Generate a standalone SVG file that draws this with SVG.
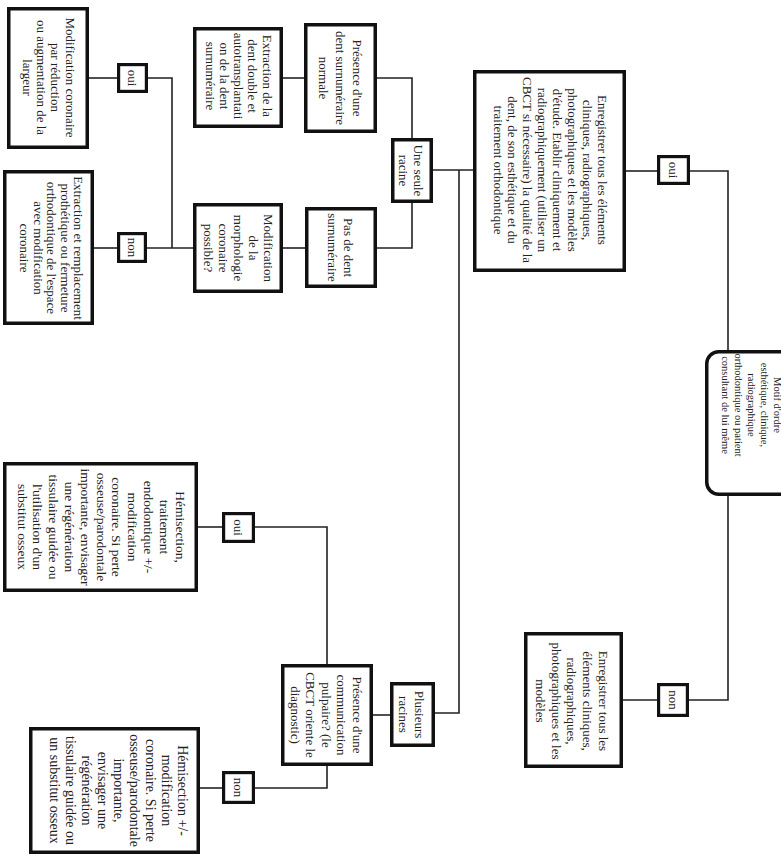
<svg xmlns="http://www.w3.org/2000/svg" width="781" height="868" viewBox="0 0 781 868">
<style>
.box{fill:#fff;stroke:#111;stroke-width:3.5}
.lbl{fill:#fff;stroke:#111;stroke-width:3.2}
.c{fill:none;stroke:#222;stroke-width:1.6}
text{font-family:"Liberation Serif","Times New Roman",serif;fill:#222;text-anchor:middle}
.f13{font-size:13px}
.f135{font-size:13.5px}
.f14{font-size:14px}
.f10{font-size:10.5px}
</style>
<rect width="781" height="868" fill="#fff"/>
<g id="connectors">
<polyline class="c" points="89,78 117,78"/>
<polyline class="c" points="148,78 172,78 172,248"/>
<polyline class="c" points="94,248 117,248"/>
<polyline class="c" points="147,248 193,248"/>
<polyline class="c" points="283,248 305,248"/>
<polyline class="c" points="377,248 412,248 412,203"/>
<polyline class="c" points="283,78 304,78"/>
<polyline class="c" points="377,78 412,78 412,138"/>
<polyline class="c" points="433,170 473,170"/>
<polyline class="c" points="459,170 459,713 435,713"/>
<polyline class="c" points="626,171 657,171"/>
<polyline class="c" points="690,171 728,171 728,350"/>
<polyline class="c" points="728,496 728,700 689,700"/>
<polyline class="c" points="657,700 623,700"/>
<polyline class="c" points="390,715 373,715"/>
<polyline class="c" points="327,664 327,527 255,527"/>
<polyline class="c" points="222,527 198,527"/>
<polyline class="c" points="327,766 327,788 255,788"/>
<polyline class="c" points="222,788 200,788"/>
</g>
<g id="n-modif-coronaire">
<rect class="box" x="8.75" y="8.75" width="78.5" height="138.5"/>
<text class="f13" transform="translate(48.5,77.5) rotate(90)"><tspan x="0" y="-17.2">Modification coronaire</tspan><tspan x="0" y="-2.9">par réduction</tspan><tspan x="0" y="11.4">ou augmentation de la</tspan><tspan x="0" y="25.7">largeur</tspan></text>
</g>
<g id="n-extraction-remplacement">
<rect class="box" x="4.75" y="171.75" width="87.5" height="151.5"/>
<text class="f13" transform="translate(51.5,248) rotate(90)"><tspan x="0" y="-22.7">Extraction et remplacement</tspan><tspan x="0" y="-9.2">prothétique ou fermeture</tspan><tspan x="0" y="4.3">orthodontique de l'espace</tspan><tspan x="0" y="17.8">avec modification</tspan><tspan x="0" y="31.3">coronaire</tspan></text>
</g>
<g id="n-oui1">
<rect class="lbl" x="118.6" y="64.6" width="27.8" height="26.8"/>
<text class="f13" transform="translate(132.5,78) rotate(90)"><tspan x="0" y="4.3">oui</tspan></text>
</g>
<g id="n-non1">
<rect class="lbl" x="118.6" y="233.6" width="26.8" height="27.8"/>
<text class="f13" transform="translate(132,247.5) rotate(90)"><tspan x="0" y="4.3">non</tspan></text>
</g>
<g id="n-extraction-double">
<rect class="box" x="194.75" y="28.75" width="86.5" height="97.5"/>
<text class="f13" transform="translate(238.5,76) rotate(90)"><tspan x="0" y="-24.1">Extraction de la</tspan><tspan x="0" y="-9.9">dent double et</tspan><tspan x="0" y="4.3">autotransplantati</tspan><tspan x="0" y="18.5">on de la dent</tspan><tspan x="0" y="32.7">surnuméraire</tspan></text>
</g>
<g id="n-presence-surnum">
<rect class="box" x="305.75" y="24.75" width="69.5" height="106.5"/>
<text class="f13" transform="translate(340.5,78) rotate(90)"><tspan x="0" y="-12.7">Présence d'une</tspan><tspan x="0" y="4.3">dent surnuméraire</tspan><tspan x="0" y="21.3">normale</tspan></text>
</g>
<g id="n-une-seule-racine">
<rect class="box" x="392.75" y="139.75" width="38.5" height="61.5"/>
<text class="f13" transform="translate(410.5,170.5) rotate(90)"><tspan x="0" y="-3.2">Une seule</tspan><tspan x="0" y="11.8">racine</tspan></text>
</g>
<g id="n-pas-de-dent">
<rect class="box" x="306.75" y="208.75" width="68.5" height="77.5"/>
<text class="f13" transform="translate(340,247.5) rotate(90)"><tspan x="0" y="-3.7">Pas de dent</tspan><tspan x="0" y="12.3">surnuméraire</tspan></text>
</g>
<g id="n-modif-morphologie">
<rect class="box" x="194.75" y="204.75" width="86.5" height="86.5"/>
<text class="f13" transform="translate(238,248) rotate(90)"><tspan x="0" y="-25.7">Modification</tspan><tspan x="0" y="-10.7">de la</tspan><tspan x="0" y="4.3">morphologie</tspan><tspan x="0" y="19.3">coronaire</tspan><tspan x="0" y="34.3">possible?</tspan></text>
</g>
<g id="n-enregistrer-complet">
<rect class="box" x="474.75" y="71.75" width="149.5" height="198.5"/>
<text class="f13" transform="translate(550,170) rotate(90)"><tspan x="0" y="-47.85">Enregistrer tous les éléments</tspan><tspan x="0" y="-32.95">cliniques, radiographiques,</tspan><tspan x="0" y="-18.05">photographiques et les modèles</tspan><tspan x="0" y="-3.15">d'étude. Etablir cliniquement et</tspan><tspan x="0" y="11.75">radiographiquement (utiliser un</tspan><tspan x="0" y="26.65">CBCT si nécessaire) la qualité de la</tspan><tspan x="0" y="41.55">dent, de son esthétique et du</tspan><tspan x="0" y="56.45">traitement orthodontique</tspan></text>
</g>
<g id="n-oui2">
<rect class="lbl" x="658.6" y="156.6" width="29.8" height="26.8"/>
<text class="f13" transform="translate(673.5,170) rotate(90)"><tspan x="0" y="4.3">oui</tspan></text>
</g>
<g id="n-demande">
<rect class="box" x="706.75" y="351.75" width="100" height="142.5" rx="12" ry="12"/>
<text class="f10" transform="translate(751.5,405) rotate(90)"><tspan x="0" y="-22.5">Motif d'ordre</tspan><tspan x="0" y="-9.5">esthétique, clinique,</tspan><tspan x="0" y="3.5">radiographique</tspan><tspan x="0" y="16.5">orthodontique ou patient</tspan><tspan x="0" y="29.5">consultant de lui même</tspan></text>
</g>
<g id="n-non2">
<rect class="lbl" x="658.6" y="684.6" width="28.8" height="30.8"/>
<text class="f13" transform="translate(673,700) rotate(90)"><tspan x="0" y="4.3">non</tspan></text>
</g>
<g id="n-enregistrer-simple">
<rect class="box" x="525.75" y="633.75" width="95.5" height="132.5"/>
<text class="f13" transform="translate(571.5,701) rotate(90)"><tspan x="0" y="-27.1">Enregistrer tous les</tspan><tspan x="0" y="-11.4">éléments cliniques,</tspan><tspan x="0" y="4.3">radiographiques,</tspan><tspan x="0" y="20">photographiques et les</tspan><tspan x="0" y="35.7">modèles</tspan></text>
</g>
<g id="n-plusieurs-racines">
<rect class="box" x="391.75" y="683.75" width="41.5" height="61.5"/>
<text class="f13" transform="translate(411.5,714.5) rotate(90)"><tspan x="0" y="-3.7">Plusieurs</tspan><tspan x="0" y="12.3">racines</tspan></text>
</g>
<g id="n-communication">
<rect class="box" x="282.75" y="665.75" width="88.5" height="98.5"/>
<text class="f13" transform="translate(326,715) rotate(90)"><tspan x="0" y="-26.7">Présence d'une</tspan><tspan x="0" y="-11.2">communication</tspan><tspan x="0" y="4.3">pulpaire? (le</tspan><tspan x="0" y="19.8">CBCT oriente le</tspan><tspan x="0" y="35.3">diagnostic)</tspan></text>
</g>
<g id="n-oui3">
<rect class="lbl" x="223.6" y="513.6" width="29.8" height="27.8"/>
<text class="f13" transform="translate(238.5,527.5) rotate(90)"><tspan x="0" y="4.3">oui</tspan></text>
</g>
<g id="n-hemisection-endo">
<rect class="box" x="4.75" y="463.75" width="191.5" height="126.5"/>
<text class="f135" transform="translate(101,527) rotate(90)"><tspan x="0" y="-74.5">Hémisection,</tspan><tspan x="0" y="-58.7">traitement</tspan><tspan x="0" y="-42.9">endodontique +/-</tspan><tspan x="0" y="-27.1">modification</tspan><tspan x="0" y="-11.3">coronaire. Si perte</tspan><tspan x="0" y="4.5">osseuse/parodontale</tspan><tspan x="0" y="20.3">importante, envisager</tspan><tspan x="0" y="36.1">une régénération</tspan><tspan x="0" y="51.9">tissulaire guidée ou</tspan><tspan x="0" y="67.7">l'utilisation d'un</tspan><tspan x="0" y="83.5">substitut osseux</tspan></text>
</g>
<g id="n-non3">
<rect class="lbl" x="223.6" y="772.6" width="29.8" height="29.8"/>
<text class="f13" transform="translate(238.5,787.5) rotate(90)"><tspan x="0" y="4.3">non</tspan></text>
</g>
<g id="n-hemisection">
<rect class="box" x="30.75" y="728.75" width="167.5" height="123.5"/>
<text class="f14" transform="translate(119,790.5) rotate(90)"><tspan x="0" y="-59.4">Hémisection +/-</tspan><tspan x="0" y="-43.4">modification</tspan><tspan x="0" y="-27.4">coronaire. Si perte</tspan><tspan x="0" y="-11.4">osseuse/parodontale</tspan><tspan x="0" y="4.6">importante,</tspan><tspan x="0" y="20.6">envisager une</tspan><tspan x="0" y="36.6">régénération</tspan><tspan x="0" y="52.6">tissulaire guidée ou</tspan><tspan x="0" y="68.6">un substitut osseux</tspan></text>
</g>
</svg>
